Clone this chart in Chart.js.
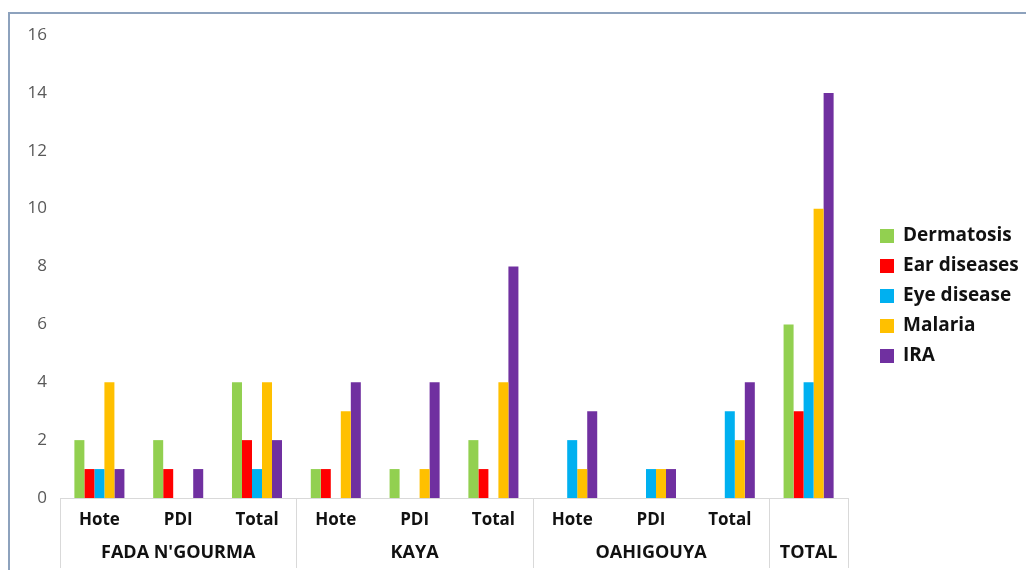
<!DOCTYPE html>
<html>
<head>
<meta charset="utf-8">
<script src="https://cdn.jsdelivr.net/npm/chart.js@4.4.1/dist/chart.umd.min.js"></script>
<style>
  html, body { margin: 0; padding: 0; background: #fff; }
  #wrap { width: 1026px; height: 574px; position: relative; }
</style>
</head>
<body>
<div id="wrap"><canvas id="myChart" width="1026" height="574"></canvas></div>
<script>
// Sub-categories along the x axis, and the regions they belong to
const subLabels = ['Hote', 'PDI', 'Total', 'Hote', 'PDI', 'Total', 'Hote', 'PDI', 'Total', ''];
const groups = [
    { name: "FADA N'GOURMA", from: 0, to: 2 },
    { name: 'KAYA', from: 3, to: 5 },
    { name: 'OAHIGOUYA', from: 6, to: 8 },
    { name: 'TOTAL', from: 9, to: 9 }
];

// Number of cases per disease
const dermatosis  = [2, 2, 4, 1, 1, 2, 0, 0, 0, 6];
const earDiseases = [1, 1, 2, 1, 0, 1, 0, 0, 0, 3];
const eyeDisease  = [1, 0, 1, 0, 0, 0, 2, 1, 3, 4];
const malaria     = [4, 0, 4, 3, 1, 4, 1, 1, 2, 10];
const ira         = [1, 1, 2, 4, 4, 8, 3, 1, 4, 14];

const yTicks = [0, 2, 4, 6, 8, 10, 12, 14, 16];

const FONT = '"Open Sans", Lato, sans-serif';

// Outer frame (left and top edges only show)
const framePlugin = {
    id: 'frame',
    beforeDraw(chart) {
        const ctx = chart.ctx;
        ctx.save();
        ctx.strokeStyle = '#8da2bd';
        ctx.lineWidth = 2;
        ctx.beginPath();
        ctx.moveTo(9, 570);
        ctx.lineTo(9, 13);
        ctx.lineTo(1026, 13);
        ctx.stroke();
        ctx.restore();
    }
};

// Two-level category table under the plot
const labelTablePlugin = {
    id: 'labelTable',
    afterDraw(chart) {
        const ctx = chart.ctx;
        const x = chart.scales.x;
        const area = chart.chartArea;
        const y0 = area.bottom;
        const y1 = y0 + 70;
        const edge = i => {
            if (i < 0) return area.left;
            if (i >= subLabels.length - 1) return area.right;
            return (x.getPixelForValue(i) + x.getPixelForValue(i + 1)) / 2;
        };
        ctx.save();
        ctx.strokeStyle = '#d9d9d9';
        ctx.lineWidth = 1;
        ctx.beginPath();
        ctx.moveTo(area.left, y0 + 0.5);
        ctx.lineTo(area.right, y0 + 0.5);
        const cuts = [area.left];
        groups.forEach(g => cuts.push(edge(g.to)));
        cuts.forEach(cx => {
            const px = Math.round(cx) + 0.5;
            ctx.moveTo(px, y0);
            ctx.lineTo(px, y1);
        });
        ctx.stroke();

        ctx.fillStyle = '#111';
        ctx.textAlign = 'center';
        ctx.textBaseline = 'middle';
        ctx.font = 'bold 17px ' + FONT;
        subLabels.forEach((lab, i) => {
            if (lab) ctx.fillText(lab, x.getPixelForValue(i), y0 + 22);
        });
        ctx.font = 'bold 18px ' + FONT;
        groups.forEach(g => {
            const cx = (edge(g.from - 1) + edge(g.to)) / 2;
            ctx.fillText(g.name, cx, y0 + 55);
        });
        ctx.restore();
    }
};

// Legend on the right
const legendPlugin = {
    id: 'sideLegend',
    afterDraw(chart) {
        const ctx = chart.ctx;
        ctx.save();
        ctx.font = 'bold 19px ' + FONT;
        ctx.textBaseline = 'middle';
        ctx.textAlign = 'left';
        chart.data.datasets.forEach((ds, i) => {
            const cy = 236 + i * 30;
            ctx.fillStyle = ds.backgroundColor;
            ctx.fillRect(880, cy - 7, 14, 14);
            ctx.fillStyle = '#111';
            ctx.fillText(ds.label, 903, cy);
        });
        ctx.restore();
    }
};

const chartElement = document.getElementById('myChart').getContext('2d');
new Chart(chartElement, {
    type: 'bar',
    data: {
        labels: subLabels,
        datasets: [
            { label: 'Dermatosis', data: dermatosis, backgroundColor: '#92d050' },
            { label: 'Ear diseases', data: earDiseases, backgroundColor: '#ff0000' },
            { label: 'Eye disease', data: eyeDisease, backgroundColor: '#00b0f0' },
            { label: 'Malaria', data: malaria, backgroundColor: '#ffc000' },
            { label: 'IRA', data: ira, backgroundColor: '#7030a0' }
        ]
    },
    options: {
        responsive: false,
        animation: false,
        layout: { padding: { left: 12, right: 178, top: 35, bottom: 68 } },
        datasets: { bar: { barPercentage: 1, categoryPercentage: 0.635 } },
        scales: {
            x: {
                grid: { display: false },
                border: { display: false },
                ticks: { display: false }
            },
            y: {
                min: 0,
                max: 16,
                afterBuildTicks: scale => { scale.ticks = yTicks.map(v => ({ value: v })); },
                afterFit: scale => { scale.width = 48; },
                grid: { display: false, drawTicks: false },
                border: { display: false },
                ticks: { color: '#595959', padding: 13, font: { family: FONT, size: 17 } }
            }
        },
        plugins: {
            legend: { display: false },
            tooltip: { enabled: false }
        }
    },
    plugins: [framePlugin, labelTablePlugin, legendPlugin]
});
</script>
</body>
</html>
